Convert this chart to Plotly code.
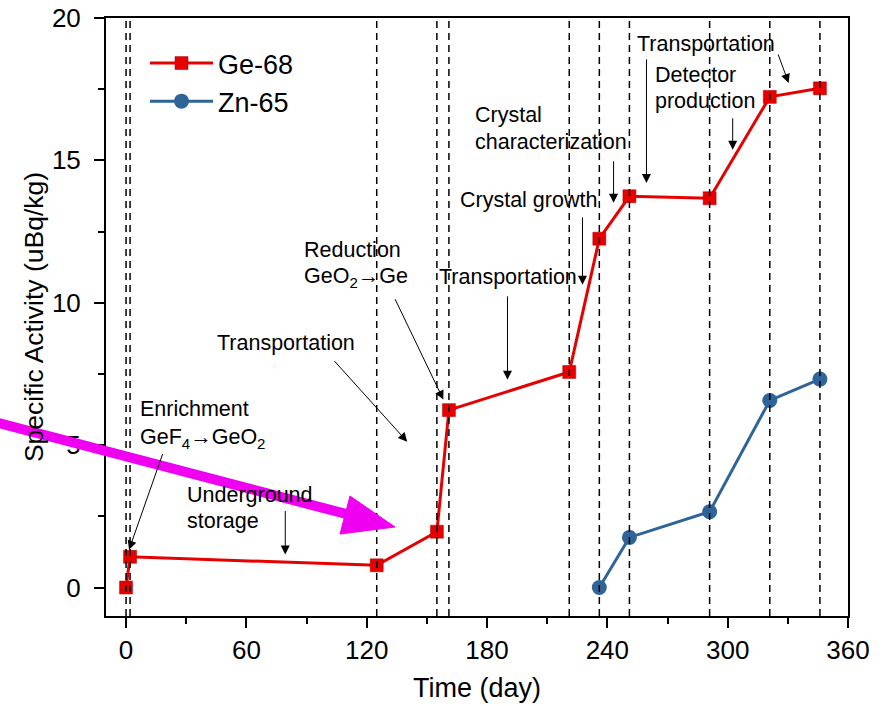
import plotly.graph_objects as go

# ---------------- data ----------------
ge_days = [0, 2, 125, 155, 161, 221, 236, 251, 291, 321, 346]
ge_activity = [0.0, 1.08, 0.78, 1.96, 6.23, 7.57, 12.25, 13.74, 13.67, 17.23, 17.53]

zn_days = [236, 251, 291, 321, 346]
zn_activity = [0.0, 1.76, 2.66, 6.57, 7.32]

stage_boundaries = [0, 2, 125, 155, 161, 221, 236, 251, 291, 321, 346]

x_ticks = [0, 60, 120, 180, 240, 300, 360]
y_ticks = [0, 5, 10, 15, 20]

# stage labels: (text, left px, mid px)
stage_labels = [
    ("Enrichment", 138, 409),
    ("GeF<sub>4</sub>\u2192GeO<sub>2</sub>", 138, 438),
    ("Underground", 185, 495),
    ("storage", 185, 521),
    ("Transportation", 215, 343),
    ("Reduction", 302, 250),
    ("GeO<sub>2</sub>\u2192Ge", 302, 277),
    ("Transportation", 437, 277),
    ("Crystal growth", 458, 200),
    ("Crystal", 473, 115),
    ("characterization", 473, 142),
    ("Transportation", 635, 44),
    ("Detector", 653, 75),
    ("production", 653, 101),
]

# label arrows: (tail day, tail value, head day, head value)
stage_arrows = [
    (18.5, 4.74, 1.5, 1.33),
    (79.4, 2.74, 79.4, 1.16),
    (103.3, 8.0, 140.2, 5.12),
    (133.8, 10.18, 158.2, 6.60),
    (190.2, 10.28, 190.2, 7.30),
    (227.6, 13.05, 227.6, 10.63),
    (243.1, 15.02, 243.1, 13.51),
    (259.5, 18.6, 259.5, 14.21),
    (324.9, 18.77, 330.4, 17.72),
    (302.5, 16.53, 302.5, 15.37),
]

# ---------------- layout helpers ----------------
W, H = 884, 706
ML, MR, MT, MB = 106, 36, 18, 90
PW, PH = W - ML - MR, H - MT - MB


def px_x(px):
    return (px - ML) / PW


def px_y(py):
    return (H - MB - py) / PH


FONT = "Arial, Liberation Sans, sans-serif"
RED = "#e60000"
BLUE = "#2f6498"

fig = go.Figure()
fig.add_trace(go.Scatter(
    x=ge_days, y=ge_activity, mode="lines+markers", name="Ge-68",
    line=dict(color=RED, width=3),
    marker=dict(symbol="square", size=13, color=RED,
                line=dict(color="#b00000", width=0.5)),
))
fig.add_trace(go.Scatter(
    x=zn_days, y=zn_activity, mode="lines+markers", name="Zn-65",
    line=dict(color=BLUE, width=3),
    marker=dict(symbol="circle", size=15, color=BLUE),
))

shapes = []
for d in stage_boundaries:
    shapes.append(dict(type="line", xref="x", yref="paper", x0=d, x1=d, y0=0, y1=1,
                       line=dict(color="black", width=1.5, dash="7px,5px"), layer="above"))

# magenta overlay arrow (paper coordinates from pixel positions)
MAG = "#f000f0"
shapes.append(dict(type="line", xref="paper", yref="paper",
                   x0=px_x(-5), y0=px_y(422), x1=px_x(350), y1=px_y(515),
                   line=dict(color=MAG, width=10), layer="above"))
tri = "M {},{} L {},{} L {},{} Z".format(px_x(350), px_y(496), px_x(395), px_y(527),
                                          px_x(340), px_y(534))
shapes.append(dict(type="path", xref="paper", yref="paper", path=tri,
                   fillcolor=MAG, line=dict(color=MAG, width=1), layer="above"))

annotations = []
for text, lx, my in stage_labels:
    annotations.append(dict(text=text, xref="paper", yref="paper", x=px_x(lx), y=px_y(my),
                            xanchor="left", yanchor="middle", showarrow=False,
                            font=dict(family=FONT, size=21.5, color="black")))
for tx, ty, hx, hy in stage_arrows:
    annotations.append(dict(text="", x=hx, y=hy, ax=tx, ay=ty, xref="x", yref="y",
                            axref="x", ayref="y", showarrow=True, arrowhead=2,
                            arrowsize=1.8, arrowwidth=1, arrowcolor="black"))

axis_common = dict(showline=True, linecolor="black", linewidth=2, mirror=True,
                   ticks="outside", tickcolor="black", tickwidth=2, ticklen=10,
                   showgrid=False, zeroline=False, automargin=False,
                   tickfont=dict(family=FONT, size=26, color="black"))

fig.update_layout(
    width=W, height=H,
    margin=dict(l=ML, r=MR, t=MT, b=MB, pad=0, autoexpand=False),
    paper_bgcolor="white", plot_bgcolor="white",
    font=dict(family=FONT, color="black"),
    showlegend=True,
    legend=dict(x=px_x(145), y=px_y(39), xanchor="left", yanchor="top",
                bgcolor="rgba(0,0,0,0)", borderwidth=0,
                font=dict(family=FONT, size=27, color="black"),
                tracegroupgap=0, itemsizing="trace", itemwidth=63),
    xaxis=dict(range=[-10, 360], tickvals=x_ticks,
               minor=dict(dtick=30, tick0=0, ticks="outside", ticklen=6,
                          tickwidth=2, tickcolor="black"),
               title=dict(text="Time (day)", font=dict(family=FONT, size=27), standoff=14),
               **axis_common),
    yaxis=dict(range=[-1, 20], tickvals=y_ticks, ticklabelstandoff=8,
               minor=dict(dtick=2.5, tick0=0, ticks="outside", ticklen=6,
                          tickwidth=2, tickcolor="black"),
               title=dict(text="Specific Activity (uBq/kg)", font=dict(family=FONT, size=26.5),
                          standoff=1),
               **axis_common),
    shapes=shapes,
    annotations=annotations,
)

fig.write_html("out.html")
